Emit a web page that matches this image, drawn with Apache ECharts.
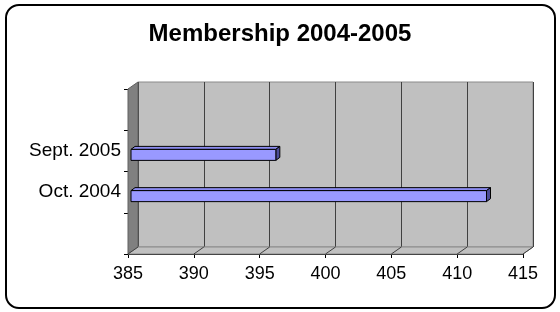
<!DOCTYPE html>
<html>
<head>
<meta charset="utf-8">
<script src="https://cdn.jsdelivr.net/npm/echarts@6/dist/echarts.min.js"></script>
<style>
  html, body { margin: 0; padding: 0; background: #fff; }
  #chart { width: 560px; height: 312px; }
</style>
</head>
<body>
<div id="chart"></div>
<script>
// data
const categories = ['', 'Oct. 2004', 'Sept. 2005', '']
const members = [null, 412, 396, null]
const axisMin = 385
const axisMax = 415
const axisStep = 5

// front plane of the plot and the 3d depth offset
const FL = 128, FT = 89, FW = 395, FH = 165
const DX = 10, DY = -7

const chart = echarts.init(document.getElementById('chart'))

const barData = []
members.forEach((v, i) => {
  if (v != null) barData.push([v, i])
})

const floorLines = []
for (let i = 0; i <= (axisMax - axisMin) / axisStep; i++) {
  const x = FL + (FW * i * axisStep) / (axisMax - axisMin)
  floorLines.push({
    type: 'line',
    z: 2,
    shape: { x1: x, y1: FT + FH, x2: x + DX, y2: FT + FH + DY },
    style: { stroke: '#404040', lineWidth: 1 }
  })
}

const option = {
  animation: false,
  title: {
    text: 'Membership 2004-2005',
    left: 'center',
    top: 17,
    textStyle: { fontFamily: 'Liberation Sans, Arial', fontSize: 24, fontWeight: 'bold', color: '#000' }
  },
  grid: [
    { left: FL, top: FT, width: FW, height: FH },
    {
      left: FL + DX, top: FT + DY, width: FW, height: FH,
      show: true, backgroundColor: '#c0c0c0', borderColor: '#8a8a8a', borderWidth: 1
    }
  ],
  xAxis: [
    {
      type: 'value', gridIndex: 0, min: axisMin, max: axisMax, interval: axisStep,
      axisLine: { show: true, onZero: false, lineStyle: { color: '#000', width: 1 } },
      axisTick: { show: true, length: 4, lineStyle: { color: '#000' } },
      axisLabel: { color: '#000', fontSize: 18, fontFamily: 'Liberation Sans, Arial', margin: 11 },
      splitLine: { show: false }
    },
    {
      type: 'value', gridIndex: 1, min: axisMin, max: axisMax, interval: axisStep,
      axisLine: { show: false }, axisTick: { show: false }, axisLabel: { show: false },
      splitLine: { show: true, lineStyle: { color: '#404040', width: 1 } }
    }
  ],
  yAxis: [
    {
      type: 'category', gridIndex: 0, data: categories,
      axisLine: { show: true, lineStyle: { color: '#000', width: 1 } },
      axisTick: { show: true, length: 4, lineStyle: { color: '#000' } },
      axisLabel: { color: '#000', fontSize: 19, fontFamily: 'Liberation Sans, Arial', margin: 7 },
      splitLine: { show: false }
    },
    {
      type: 'category', gridIndex: 1, data: categories, show: false
    }
  ],
  graphic: [
    // chart frame
    {
      type: 'rect', z: 0,
      shape: { x: 6, y: 5, width: 549, height: 303, r: 13 },
      style: { fill: 'none', stroke: '#000', lineWidth: 2 }
    },
    // side wall
    {
      type: 'polygon', z: 1,
      shape: { points: [[FL, FT + FH], [FL, FT], [FL + DX, FT + DY], [FL + DX, FT + FH + DY]] },
      style: { fill: '#808080', stroke: '#606060', lineWidth: 1 }
    },
    // floor
    {
      type: 'polygon', z: 1,
      shape: { points: [[FL, FT + FH], [FL + FW, FT + FH], [FL + FW + DX, FT + FH + DY], [FL + DX, FT + FH + DY]] },
      style: { fill: '#c0c0c0', stroke: '#8a8a8a', lineWidth: 1 }
    },
    ...floorLines
  ],
  series: [
    {
      type: 'custom',
      xAxisIndex: 0,
      yAxisIndex: 0,
      z: 10,
      encode: { x: 0, y: 1 },
      data: barData,
      renderItem: function (params, api) {
        const start = api.coord([axisMin, api.value(1)])
        const end = api.coord([api.value(0), api.value(1)])
        const x0 = start[0] + 3
        const x1 = end[0] + 3
        const y0 = start[1] - 1.5
        const y1 = start[1] + 9.5
        const dx = 4, dy = -3
        return {
          type: 'group',
          children: [
            {
              type: 'polygon',
              shape: { points: [[x0, y0], [x1, y0], [x1 + dx, y0 + dy], [x0 + dx, y0 + dy]] },
              style: { fill: '#8c8cf0', stroke: '#000', lineWidth: 1 }
            },
            {
              type: 'polygon',
              shape: { points: [[x1, y0], [x1 + dx, y0 + dy], [x1 + dx, y1 + dy], [x1, y1]] },
              style: { fill: '#4d4d99', stroke: '#000', lineWidth: 1 }
            },
            {
              type: 'rect',
              shape: { x: x0, y: y0, width: x1 - x0, height: y1 - y0 },
              style: { fill: '#9999ff', stroke: '#000', lineWidth: 1 }
            }
          ]
        }
      }
    }
  ]
}

chart.setOption(option)
</script>
</body>
</html>
